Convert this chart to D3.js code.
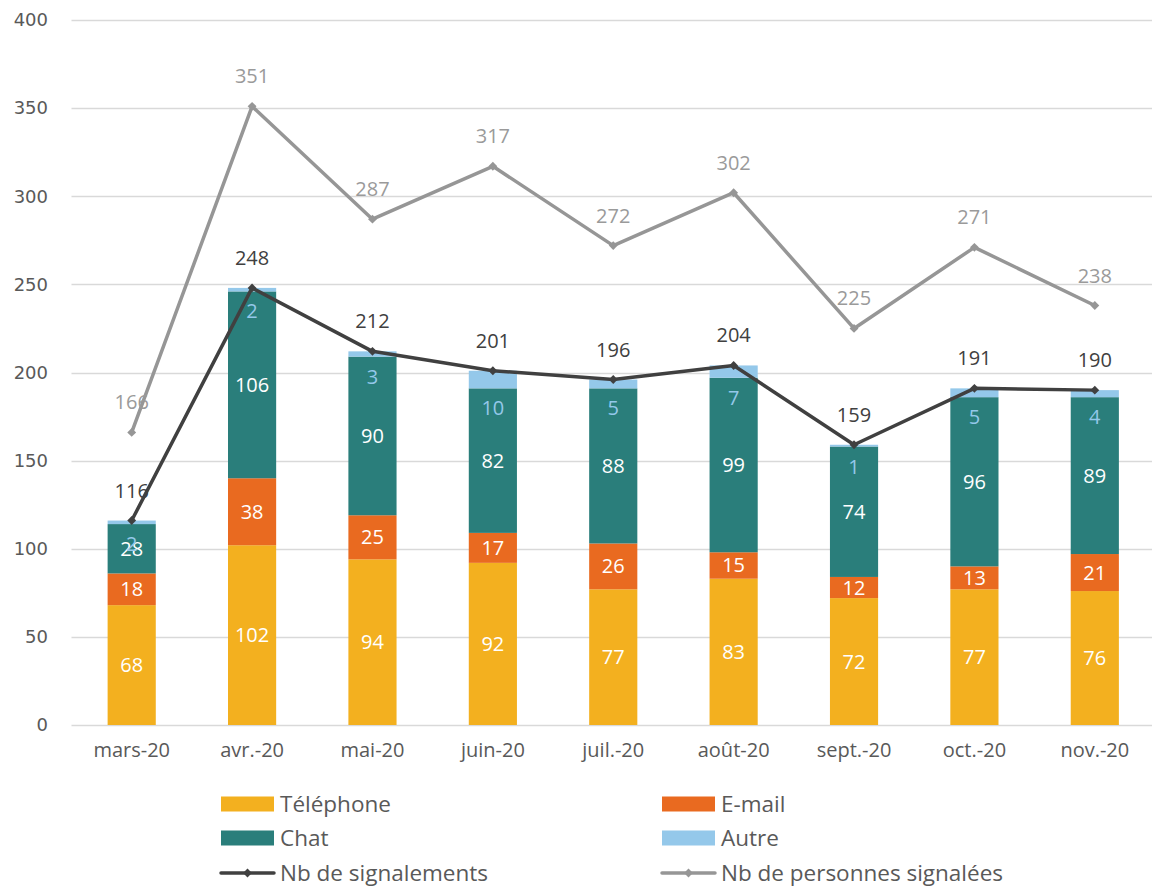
<!DOCTYPE html>
<html>
<head>
<meta charset="utf-8">
<script src="https://cdn.jsdelivr.net/npm/d3@7"></script>
<style>
  body { margin: 0; background: #fff; }
  svg { display: block; }
</style>
</head>
<body>
<div id="chart"></div>
<script>
// data
var months = ["mars-20", "avr.-20", "mai-20", "juin-20", "juil.-20", "août-20", "sept.-20", "oct.-20", "nov.-20"];
var telephone = [68, 102, 94, 92, 77, 83, 72, 77, 76];
var email = [18, 38, 25, 17, 26, 15, 12, 13, 21];
var chat = [28, 106, 90, 82, 88, 99, 74, 96, 89];
var autre = [2, 2, 3, 10, 5, 7, 1, 5, 4];
var signalements = [116, 248, 212, 201, 196, 204, 159, 191, 190];
var personnes = [166, 351, 287, 317, 272, 302, 225, 271, 238];
var yTicks = [0, 50, 100, 150, 200, 250, 300, 350, 400];

var width = 1152, height = 888;
var plotLeft = 71.5, plotRight = 1155, plotTop = 20, plotBottom = 725;

var svg = d3.select("#chart").append("svg")
    .attr("width", width)
    .attr("height", height);

var xScale = d3.scaleBand()
    .domain(months)
    .range([plotLeft, plotRight])
    .paddingInner(0.6)
    .paddingOuter(0.3);

var yScale = d3.scaleLinear()
    .domain([0, 400])
    .range([plotBottom, plotTop]);

var font = "'Open Sans', sans-serif";
var textCol = "#595959";

// gridlines
svg.append("g")
    .selectAll("line")
    .data(yTicks)
    .enter().append("line")
    .attr("x1", plotLeft)
    .attr("x2", width)
    .attr("y1", function (d) { return Math.round(yScale(d)) + 0.5; })
    .attr("y2", function (d) { return Math.round(yScale(d)) + 0.5; })
    .attr("stroke", "#d9d9d9")
    .attr("stroke-width", 1.3);

// y axis labels
var yAxis = d3.axisLeft(yScale).tickValues(yTicks).tickSize(0).tickPadding(0);
var yAxis_g = svg.append("g")
    .attr("transform", "translate(48,0)")
    .call(yAxis);
yAxis_g.select(".domain").remove();
yAxis_g.selectAll("text")
    .attr("font-family", "'DejaVu Sans', sans-serif")
    .attr("font-size", 18)
    .attr("fill", textCol);

// x axis labels
var xAxis = d3.axisBottom(xScale).tickSize(0).tickPadding(0);
var xAxis_g = svg.append("g")
    .attr("transform", "translate(0," + (plotBottom + 18) + ")")
    .call(xAxis);
xAxis_g.select(".domain").remove();
xAxis_g.selectAll("text")
    .attr("font-family", font)
    .attr("font-size", 20)
    .attr("fill", textCol);

// stacked bars
var series = [
    { name: "Téléphone", values: telephone, color: "#f3b01f", label: "#ffffff" },
    { name: "E-mail", values: email, color: "#e96a20", label: "#ffffff" },
    { name: "Chat", values: chat, color: "#2a7e7b", label: "#ffffff" },
    { name: "Autre", values: autre, color: "#94c8ea", label: "#94c8ea" }
];

var rows = months.map(function (m, i) {
    var r = { month: m };
    series.forEach(function (s) { r[s.name] = s.values[i]; });
    return r;
});
var stacked = d3.stack().keys(series.map(function (s) { return s.name; }))(rows);

stacked.forEach(function (layer, k) {
    var s = series[k];
    svg.append("g").selectAll("rect")
        .data(layer)
        .enter().append("rect")
        .attr("x", function (d) { return xScale(d.data.month); })
        .attr("width", xScale.bandwidth())
        .attr("y", function (d) { return yScale(d[1]); })
        .attr("height", function (d) { return yScale(d[0]) - yScale(d[1]); })
        .attr("fill", s.color);
});

// bar labels (Autre labels sit just under their thin segment)
stacked.forEach(function (layer, k) {
    var s = series[k];
    svg.append("g").selectAll("text")
        .data(layer)
        .enter().append("text")
        .attr("x", function (d) { return xScale(d.data.month) + xScale.bandwidth() / 2; })
        .attr("y", function (d) {
            if (s.name === "Autre") return yScale(d[0]) + 20;
            return (yScale(d[0]) + yScale(d[1])) / 2;
        })
        .attr("dy", "0.35em")
        .attr("text-anchor", "middle")
        .attr("font-family", font)
        .attr("font-size", 20)
        .attr("fill", s.label)
        .text(function (d) { return d.data[s.name]; });
});

// lines
var lines = [
    { name: "Nb de signalements", values: signalements, color: "#404040", label: "#404040" },
    { name: "Nb de personnes signalées", values: personnes, color: "#969696", label: "#9a9a9a" }
];

var cx = function (i) { return xScale(months[i]) + xScale.bandwidth() / 2; };
var lineGen = d3.line()
    .x(function (d, i) { return cx(i); })
    .y(function (d) { return yScale(d); });

var diamond = d3.symbol().type(d3.symbolDiamond2).size(50);

lines.forEach(function (l) {
    var g = svg.append("g");
    g.append("path")
        .datum(l.values)
        .attr("d", lineGen)
        .attr("fill", "none")
        .attr("stroke", l.color)
        .attr("stroke-width", 3.5)
        .attr("stroke-linejoin", "round");
    g.selectAll(".mark")
        .data(l.values)
        .enter().append("path")
        .attr("class", "mark")
        .attr("d", diamond)
        .attr("transform", function (d, i) { return "translate(" + cx(i) + "," + yScale(d) + ")"; })
        .attr("fill", l.color);
});

lines.forEach(function (l) {
    svg.append("g").selectAll("text")
        .data(l.values)
        .enter().append("text")
        .attr("x", function (d, i) { return cx(i); })
        .attr("y", function (d) { return yScale(d) - 30; })
        .attr("dy", "0.35em")
        .attr("text-anchor", "middle")
        .attr("font-family", font)
        .attr("font-size", 20)
        .attr("fill", l.label)
        .text(function (d) { return d; });
});

// legend
var legendItems = [
    { name: "Téléphone", type: "rect", color: "#f3b01f", col: 0, row: 0 },
    { name: "E-mail", type: "rect", color: "#e96a20", col: 1, row: 0 },
    { name: "Chat", type: "rect", color: "#2a7e7b", col: 0, row: 1 },
    { name: "Autre", type: "rect", color: "#94c8ea", col: 1, row: 1 },
    { name: "Nb de signalements", type: "line", color: "#404040", col: 0, row: 2 },
    { name: "Nb de personnes signalées", type: "line", color: "#969696", col: 1, row: 2 }
];
var colX = [221, 662], rowY = [804, 838, 873];

var legend = svg.append("g");
legendItems.forEach(function (it) {
    var x0 = colX[it.col], y0 = rowY[it.row];
    if (it.type === "rect") {
        legend.append("rect")
            .attr("x", x0).attr("y", y0 - 7.5)
            .attr("width", 53).attr("height", 15)
            .attr("fill", it.color);
    } else {
        legend.append("line")
            .attr("x1", x0).attr("x2", x0 + 53)
            .attr("y1", y0).attr("y2", y0)
            .attr("stroke", it.color)
            .attr("stroke-width", 3.5)
            .attr("stroke-linecap", "round");
        legend.append("path")
            .attr("d", diamond)
            .attr("transform", "translate(" + (x0 + 26.5) + "," + y0 + ")")
            .attr("fill", it.color);
    }
    legend.append("text")
        .attr("x", x0 + 59)
        .attr("y", y0)
        .attr("dy", "0.35em")
        .attr("font-family", font)
        .attr("font-size", 22.5)
        .attr("fill", textCol)
        .text(it.name);
});
</script>
</body>
</html>
